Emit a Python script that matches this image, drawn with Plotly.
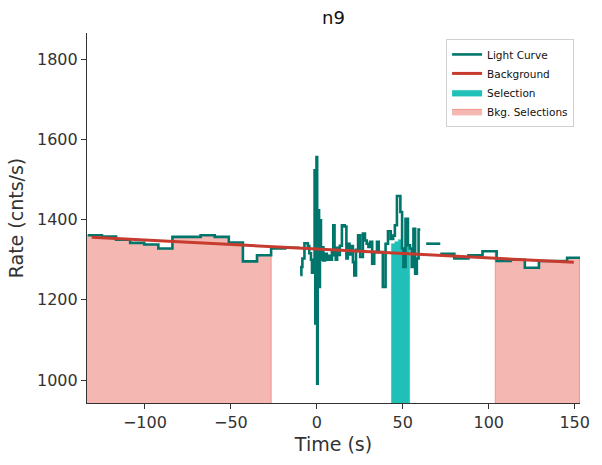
import plotly.graph_objects as go

# ---------------- data ----------------
# coarse light-curve bins (left part)
lc_left_edges = [-133.2, -125.0, -116.8, -108.6, -100.4, -92.2, -84.0, -75.8, -67.6,
                 -59.4, -51.2, -43.0, -34.8, -26.6, -18.4, -10.2]
lc_left_rates = [1361, 1358, 1350, 1342, 1338, 1328, 1357, 1357, 1361,
                 1357, 1343, 1296, 1311, 1328, 1330]

# fine light-curve bins (around trigger)
lc_fine_edges = [-9.6, -9.0, -8.4, -7.2, -5.2, -4.4, -3.4, -2.8, -1.9, -1.3, -0.9, -0.5,
                 -0.2, 0.2, 0.5, 0.9, 1.3, 1.8, 2.4, 3.0, 3.8, 4.8, 5.8, 6.8, 7.8, 8.8,
                 9.6, 10.3, 11.0, 11.8, 12.6, 13.4, 14.6, 16.2, 17.2, 18.0, 19.0, 20.0,
                 21.0, 21.8, 22.8, 24.0, 25.2, 26.8, 28.0, 29.0, 30.0, 31.0, 32.2, 33.4,
                 35.0, 36.0, 38.4, 40.0, 41.4, 43.0, 44.4, 45.4, 46.6, 48.6, 49.6, 50.4,
                 51.6, 53.0, 54.2, 55.2, 56.2, 57.2, 58.2, 59.2, 60.2]
lc_fine_rates = [1262, 1282, 1303, 1341, 1334, 1316, 1300, 1268, 1300, 1523, 1141,
                 1420, 1556, 991, 1300, 1423, 1232, 1398, 1300, 1331, 1298, 1315, 1300,
                 1310, 1300, 1320, 1386, 1311, 1300, 1330, 1312, 1335, 1386, 1383, 1303,
                 1340, 1313, 1334, 1294, 1261, 1325, 1361, 1307, 1365, 1348, 1340, 1332,
                 1345, 1290, 1319, 1345, 1319, 1232, 1340, 1371, 1352, 1360, 1386, 1459,
                 1419, 1328, 1282, 1402, 1336, 1328, 1282, 1377, 1265, 1303, 1375]

# isolated coarse bin
lc_mid_edges = [63.6, 71.8]
lc_mid_rates = [1340]

# coarse light-curve bins (right part)
lc_right_edges = [71.8, 80.0, 88.2, 96.4, 104.6, 112.8, 121.0, 129.2, 137.4, 145.6, 153.8]
lc_right_rates = [1315, 1303, 1311, 1321, 1297, 1300, 1280, 1297, 1297, 1305]

# background model
bkg_time = [-131.0, 149.5]
bkg_rate = [1356, 1293.5]

# source selection (fill)
sel_edges = [43.4, 45.4, 47.4, 49.4, 51.4, 54.0]
sel_rates = [1340, 1345, 1350, 1330, 1335]

# background selections
bkg_sel_left = [-140.0, -26.6]
bkg_sel_right = [103.8, 152.8]

x_ticks = [-100, -50, 0, 50, 100, 150]
y_ticks = [1000, 1200, 1400, 1600, 1800]

# ---------------- helpers ----------------
def hv(edges, rates):
    return list(edges), list(rates) + [rates[-1]]


def rates_in(lo, hi, edge_lists):
    xs, ys = [], []
    for edges, rates in edge_lists:
        for i, r in enumerate(rates):
            a, b = edges[i], edges[i + 1]
            if b <= lo or a >= hi:
                continue
            xs.append(max(a, lo))
            ys.append(r)
            last_b = min(b, hi)
    xs.append(last_b)
    ys.append(ys[-1])
    return xs, ys


LC = "#00756b"
BK = "#c63b2d"
SEL = "#20bfb7"
PINK = "#f5b7b1"
PINK_EDGE = "#f0968c"

fig = go.Figure()

# bkg selections (fill following the light curve)
left_lists = [([-140.0] + lc_left_edges[1:], lc_left_rates)]
right_lists = [(lc_right_edges, lc_right_rates)]
for k, (lo, hi, lists) in enumerate([(bkg_sel_left[0], bkg_sel_left[1], left_lists),
                                      (bkg_sel_right[0], bkg_sel_right[1], right_lists)]):
    xs, ys = rates_in(lo, hi, lists)
    px = [xs[0]] + xs + [xs[-1], xs[0]]
    py = [0] + ys + [0, 0]
    fig.add_trace(go.Scatter(x=px, y=py, mode="lines", line=dict(color=PINK_EDGE, width=1, shape="hv"),
                             fill="toself", fillcolor=PINK, name="Bkg. Selections",
                             legendgroup="bsel", showlegend=(k == 0), legendrank=4,
                             hoverinfo="skip"))

# source selection
sx, sy = hv(sel_edges, sel_rates)
fig.add_trace(go.Scatter(x=[sx[0]] + sx + [sx[-1], sx[0]], y=[0] + sy + [0, 0], mode="lines",
                         line=dict(color=SEL, width=0.5, shape="hv"), fill="toself",
                         fillcolor=SEL, name="Selection", legendrank=3, hoverinfo="skip"))

# light curve
xs, ys = [], []
for edges, rates in [(lc_left_edges, lc_left_rates), (lc_fine_edges, lc_fine_rates),
                     (lc_mid_edges, lc_mid_rates), (lc_right_edges, lc_right_rates)]:
    ex, ry = hv(edges, rates)
    if xs:
        xs.append(None)
        ys.append(None)
    xs += ex
    ys += ry
fig.add_trace(go.Scatter(x=xs, y=ys, mode="lines", line=dict(color=LC, width=2.6, shape="hv"),
                         name="Light Curve", legendrank=1, connectgaps=False))

# background
fig.add_trace(go.Scatter(x=bkg_time, y=bkg_rate, mode="lines", line=dict(color=BK, width=3),
                         name="Background", legendrank=2))

txt = "#333333"
fig.update_layout(
    width=602, height=465,
    margin=dict(l=87, r=19, t=33, b=62),
    paper_bgcolor="white", plot_bgcolor="white",
    font=dict(family="DejaVu Sans", color=txt, size=16),
    title=dict(text="n9", x=0.5, xref="paper", xanchor="center", y=1 - 18 / 465,
               yanchor="middle", font=dict(size=18, color="#111")),
    legend=dict(x=0.988, y=0.984, xanchor="right", yanchor="top", bgcolor="white",
                bordercolor="#d0d0d0", borderwidth=1, font=dict(size=10.5, color="#111"),
                itemwidth=30, tracegroupgap=0),
    showlegend=True,
)
fig.update_xaxes(range=[-133.7, 153.1], tickvals=x_ticks, showgrid=False, zeroline=False,
                 showline=True, linecolor="#333", linewidth=1.2, ticks="outside", ticklen=5,
                 tickcolor="#333", tickfont=dict(size=16, color=txt),
                 title=dict(text="Time (s)", font=dict(size=19, color=txt), standoff=6))
fig.update_yaxes(range=[943, 1865], tickvals=y_ticks, showgrid=False, zeroline=False,
                 showline=True, linecolor="#333", linewidth=1.2, ticks="outside", ticklen=5,
                 tickcolor="#333", tickfont=dict(size=16, color=txt),
                 title=dict(text="Rate (cnts/s)", font=dict(size=19, color=txt), standoff=8))

fig.write_html("out.html")
